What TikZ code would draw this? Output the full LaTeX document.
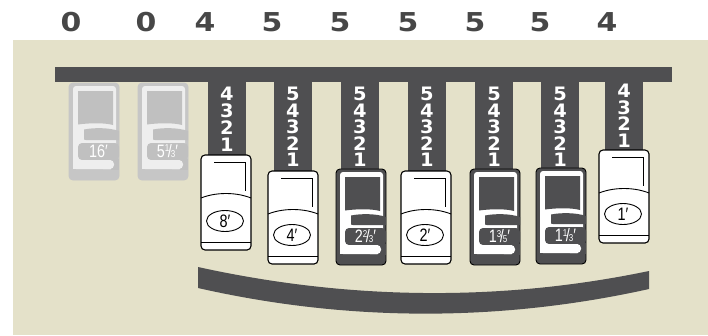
\documentclass[tikz,border=0pt]{standalone}
\usepackage{fontspec}
\setmainfont{Liberation Sans}
\newfontfamily\condf[FakeStretch=0.8]{Liberation Sans}
\newfontfamily\widef[FakeStretch=1.15]{DejaVu Sans}
\newfontfamily\digf[FakeStretch=1.05]{DejaVu Sans}
\usetikzlibrary{shapes.geometric}
\definecolor{beige}{HTML}{E4E1C9}
\definecolor{bardark}{HTML}{4F4F51}
\definecolor{numgrey}{HTML}{474747}
\definecolor{gouter}{HTML}{C6C6C6}
\definecolor{grim}{HTML}{EEEEEE}
\definecolor{gblock}{HTML}{C0C0C0}
\newcommand\fr[2]{\raisebox{0.33em}{\fontsize{10}{10}\selectfont #1}\kern-0.08em/\kern-0.06em{\fontsize{10}{10}\selectfont #2}}
\tikzset{
  toplabel/.style={font=\widef\bfseries\fontsize{26}{26}\selectfont, text=numgrey, inner sep=0},
  digit/.style={font=\digf\bfseries\fontsize{18.5}{18.5}\selectfont, text=white, inner sep=0},
  tablabel/.style={font=\condf\fontsize{18}{18}\selectfont, inner sep=0},
  knoblabel/.style={font=\condf\fontsize{18}{18}\selectfont, text=white, inner sep=0},
}
% knob tab (dark or grey): name, cx, y0, h, label, outer, rim, block, outline
\newcommand\KTab[9]{%
\begin{scope}[shift={({#2-25},{#3})}]
  \filldraw[fill=#6, draw=#9, line width=0.9, rounded corners=4] (0,0) rectangle (50,#4);
  \fill[#7, rounded corners=3] (4,3) rectangle (47,{#4-11});
  \fill[#8] (9,8) -- (44,8) -- (44,42) .. controls (35,39.5) and (20,40) .. (9,41.5) -- cycle;
  \fill[#8] (15,46.5) .. controls (25,44.5) and (40,44.5) .. (50,48) -- (50,{#4-40}) -- (17,{#4-40}) .. controls (15,{#4-40}) .. (15,{#4-43}) -- cycle;
  \fill[#8, rounded corners=4] (50,{#4-37}) -- (9,{#4-37}) -- (9,{#4-20}) -- (50,{#4-20}) -- cycle;
  \fill[#8] (42,{#4-21}) rectangle (49.5,{#4-10});
  \fill[#7, rounded corners=4] (30,{#4-20}) rectangle (45,{#4-11});
  \fill[#7] (4,{#4-20}) rectangle (36,{#4-11});
  \node[knoblabel] (#1) at (29.5,{#4-28.5}) {#5};
\end{scope}}
% white tab: name, cx, y0, h, label
\newcommand\WTab[5]{%
\begin{scope}[shift={({#2-25},{#3})}]
  \filldraw[fill=white, draw=black, line width=1.1, rounded corners=4] (0,0) rectangle (50,#4);
  \draw[line width=0.8] (13,7) -- (44,7) -- (44,36);
  \draw[line width=0.9] (0,43) .. controls (15,37) and (35,37) .. (50,43);
  \node[tablabel, ellipse, draw, fill=white, line width=0.9, minimum width=37, minimum height=21] (#1) at (24,{#4-29}) {#5};
  \draw[line width=0.9] (0,{#4-8}) -- (50,{#4-8});
\end{scope}}
\begin{document}
\begin{tikzpicture}[x=1pt,y=-1pt]
\useasboundingbox (0,0) rectangle (708,335);
\fill[white] (0,0) rectangle (708,335);
\fill[beige] (13,40) rectangle (708,335);
% top numbers
\foreach \x/\t [count=\i] in {71/0,146/0,205/4,272/5,340/5,408/5,475/5,540/5,607/4}
  \node[toplabel] (top\i) at (\x,22.5) {\t};
% main bar
\fill[bardark] (55,67) rectangle (672,82);
% strips
\foreach \cx/\tt in {227/157,293/172,360/171,427/172,494/171,560/170,624/152}
  \fill[bardark] (\cx-19,80) rectangle (\cx+19,\tt);
% digits
\foreach \cx/\ys/\st/\n [count=\i] in {227/94/17/4, 293/94/16.5/5, 360/94/16.5/5, 427/94/16.5/5, 494/94/16.5/5, 560/94/16.5/5, 624/91/16.5/4} {
  \foreach \k in {1,...,\n} {
    \pgfmathtruncatemacro\d{\n-\k+1}
    \node[digit] (s\i-\d) at (\cx, {\ys+(\k-1)*\st}) {\d};
  }
}
% grey tabs
\KTab{t16}{94}{83}{97}{16′}{gouter}{grim}{gblock}{gouter}
\KTab{t513}{163}{83}{97}{5\fr{1}{3}′}{gouter}{grim}{gblock}{gouter}
% drawbar tabs
\WTab{t8}{226}{155}{95}{8′}
\WTab{t4}{293}{171}{93}{4′}
\KTab{t223}{361}{169}{96}{2\fr{2}{3}′}{bardark}{white}{bardark}{black}
\WTab{t2}{426}{171}{93}{2′}
\KTab{t135}{495}{169}{96}{1\fr{3}{5}′}{bardark}{white}{bardark}{black}
\KTab{t113}{561}{168}{96}{1\fr{1}{3}′}{bardark}{white}{bardark}{black}
\WTab{t1}{624}{150}{93}{1′}
% curved bar
\fill[bardark] (198,267) .. controls (348,300) and (500,302) .. (649,271) -- (649,289) .. controls (500,322) and (348,322) .. (198,288) -- cycle;
\end{tikzpicture}
\end{document}
